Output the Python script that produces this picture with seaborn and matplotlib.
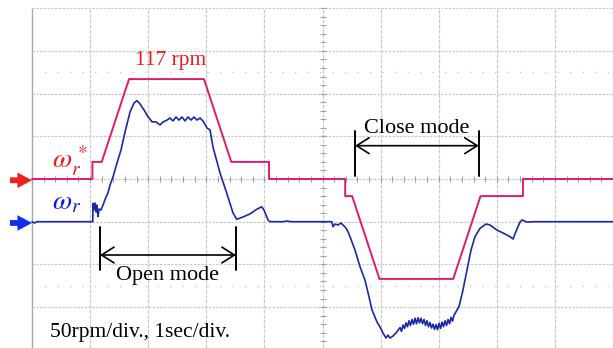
import matplotlib
matplotlib.use("Agg")
import matplotlib.pyplot as plt
import numpy as np
import pandas as pd
import seaborn as sns

# ---- scope settings -------------------------------------------------------
RPM_PER_DIV = 50          # vertical scale
SEC_PER_DIV = 1           # horizontal scale
N_HDIV = 10
SPEED_OFFSET = -50        # channel 2 (measured speed) sits one division lower

# ---- speed reference  w_r*  [s], [rpm] -------------------------------------
ref_t = [0.00, 1.04, 1.04, 1.20, 1.67, 2.96, 3.43, 4.08, 4.08,
         5.39, 5.39, 5.51, 5.98, 7.25, 7.72, 8.45, 8.45, 10.0]
ref_rpm = [0, 0, 20, 20, 117, 117, 20, 20, 0,
           0, -20, -20, -117, -117, -20, -20, 0, 0]

# ---- measured speed  w_r  [s], [rpm] ---------------------------------------
spd_t = [0.00, 0.04, 0.09,
         1.045, 1.05, 1.067, 1.085, 1.102, 1.119, 1.136, 1.153, 1.188, 1.222,
         1.274, 1.308, 1.343, 1.394, 1.463, 1.532, 1.601, 1.687, 1.756, 1.807,
         1.859, 1.928, 1.997, 2.065, 2.134, 2.203, 2.255, 2.324, 2.375, 2.427,
         2.478, 2.530, 2.582, 2.633, 2.685, 2.737, 2.788, 2.840, 2.892, 2.943,
         3.012, 3.064, 3.115, 3.167, 3.236, 3.351, 3.460, 3.523, 3.631, 3.752,
         3.867, 3.953, 3.993, 4.062, 4.096, 4.320, 4.389, 4.458,
         5.158, 5.181, 5.215, 5.267, 5.318, 5.353, 5.404, 5.439, 5.473, 5.559,
         5.645, 5.731, 5.800, 5.852, 5.938, 5.990, 6.041, 6.093, 6.127, 6.162,
         6.213, 6.265,
         6.334, 6.360, 6.386, 6.412, 6.437, 6.463, 6.489, 6.515, 6.541, 6.567,
         6.592, 6.618, 6.644, 6.670, 6.696, 6.722, 6.747, 6.773, 6.799, 6.825,
         6.851, 6.877, 6.902, 6.928, 6.954, 6.980, 7.006, 7.032, 7.057, 7.083,
         7.109, 7.135, 7.161, 7.187, 7.212, 7.238, 7.264,
         7.315, 7.349, 7.418, 7.487, 7.556, 7.625, 7.711, 7.814, 7.883,
         8.003, 8.107, 8.227, 8.279, 8.330, 8.399, 8.434, 8.520, 8.657, 10.0]
spd_rpm = [0, -1.5, 0,
           0, 21.5, 13.7, 21.9, 11.3, 19.5, 5.9, 14.8, 13.7, 19.5,
           29.0, 33.6, 43.0, 52.4, 68.8, 84.0, 105.0, 128.5, 139.0, 141.7,
           137.9, 130.8, 122.9, 117.0, 116.8, 113.3, 116.8, 119.0, 121.4, 118.0,
           122.6, 119.0, 122.6, 118.0, 122.6, 119.0, 122.6, 119.0, 121.4, 118.0,
           109.7, 107.4, 87.5, 74.5, 57.0, 33.6, 10.2, 2.8, 5.5, 9.1,
           14.5, 17.5, 13.7, 2.0, 0, 0, 0.8, 0,
           0, -5.9, -2.7, -3.9, -1.5, -3.9, -7.4, -11.7, -17.5, -33.2,
           -52.6, -68.3, -87.8, -103.4, -117.4, -123.3, -130.3, -136.2, -132.7, -136.2,
           -133.9, -130.3,
           -124.0, -128.5, -121.0, -125.0, -118.5, -123.0, -116.0, -121.5, -114.5, -120.0,
           -113.0, -119.5, -112.5, -118.5, -113.0, -119.5, -114.5, -121.5, -116.0, -123.0,
           -118.0, -124.5, -120.0, -126.0, -120.5, -126.5, -119.0, -125.0, -117.5, -123.0,
           -116.0, -121.5, -114.5, -119.5, -112.0, -116.5, -109.5,
           -103.4, -99.5, -80.0, -56.6, -33.2, -17.5, -7.8, -2.7, -3.9,
           -9.8, -13.2, -17.5, -20.3, -11.3, -0.4, 2.0, -0.4, 0, 0]

# ---- annotations -----------------------------------------------------------
peak_label = "117 rpm"
open_mode = (1.17, 3.51)      # [s]
close_mode = (5.56, 7.69)     # [s]
open_label = "Open mode"
close_label = "Close mode"
scale_label = "50rpm/div., 1sec/div."
ref_symbol = r"$\omega_r^{\,*}$"
spd_symbol = r"$\omega_r$"

# ---- style -----------------------------------------------------------------
sns.set_style("white")
plt.rcParams["font.family"] = ["Liberation Serif", "DejaVu Serif"]
plt.rcParams["mathtext.fontset"] = "stix"

REF_COLOR = "#DE1C6C"
SPD_COLOR = "#1C28A8"
GRID_COLOR = "#CACACA"

fig = plt.figure(figsize=(6.13, 3.48), dpi=100)
ax = fig.add_axes([0, 0, 1, 1])
ax.set_xlim(-0.551, N_HDIV * SEC_PER_DIV)
ax.set_ylim(-197.9, 209.6)
ax.axis("off")

ylo = ax.get_ylim()[0]
ytop = 4 * RPM_PER_DIV

# graticule
for k in range(1, N_HDIV + 1):
    ax.vlines(k * SEC_PER_DIV, ylo, ytop, color=GRID_COLOR, lw=0.9,
              ls=(0, (3, 1)), zorder=1)
ax.vlines(0, ylo, ytop, color="#A8A8A8", lw=1.0, zorder=1)
for v in range(-3 * RPM_PER_DIV, ytop + 1, RPM_PER_DIV):
    ax.hlines(v, 0, N_HDIV * SEC_PER_DIV, color=GRID_COLOR, lw=0.9,
              ls=(0, (2, 1)), zorder=1)
ax.hlines([2.5 * RPM_PER_DIV, -2.5 * RPM_PER_DIV], 0, N_HDIV * SEC_PER_DIV,
          color="#C8C8C8", lw=1.0, ls=(0, (1, 8)), zorder=1)

# centre-axis minor ticks
minor_t = np.arange(0, N_HDIV * SEC_PER_DIV + 0.01, SEC_PER_DIV / 5)
ax.plot(minor_t, np.zeros_like(minor_t), ls="none", marker="|", ms=5,
        mew=0.8, color="#A0A0A0", zorder=1)
minor_v = np.arange(-190, ytop + 1, RPM_PER_DIV / 5)
ax.plot(np.full_like(minor_v, N_HDIV / 2 * SEC_PER_DIV), minor_v, ls="none",
        marker="_", ms=5, mew=0.8, color="#A0A0A0", zorder=1)

# traces
ref_df = pd.DataFrame({"t": ref_t, "rpm": ref_rpm})
spd_df = pd.DataFrame({"t": spd_t, "rpm": np.array(spd_rpm) + SPEED_OFFSET})
sns.lineplot(data=ref_df, x="t", y="rpm", estimator=None, sort=False,
             color=REF_COLOR, lw=1.4, ax=ax, zorder=3)
sns.lineplot(data=spd_df, x="t", y="rpm", estimator=None, sort=False,
             color=SPD_COLOR, lw=1.2, ax=ax, zorder=3)
ax.axis("off")

# channel position markers
for level, col in [(0, "#F02020"), (SPEED_OFFSET, "#1030F0")]:
    ax.annotate("", xy=(0, level - 1.5), xytext=(-0.38, level - 1.5),
                arrowprops=dict(arrowstyle="simple,head_length=0.75,head_width=0.8,tail_width=0.3",
                                mutation_scale=14, color=col, lw=0,
                                shrinkA=0, shrinkB=0), zorder=4)

# trace labels
ax.text(0.34, 12, ref_symbol, color="#F01818", fontsize=20, ha="left",
        va="baseline")
ax.text(0.34, -36, spd_symbol, color="#1010F0", fontsize=20, ha="left",
        va="baseline")
ax.text(2.39, max(ref_rpm) + 16, peak_label, color="#F01818", fontsize=15.5,
        ha="center", va="baseline")

# mode spans
def mode_span(span, bar_lo, bar_hi, arrow_y, label, label_y):
    for t in span:
        ax.plot([t, t], [bar_lo, bar_hi], color="black", lw=1.4, zorder=4)
    ax.annotate("", xy=(span[1], arrow_y), xytext=(span[0], arrow_y),
                arrowprops=dict(arrowstyle="<->,head_length=0.6,head_width=0.38",
                                mutation_scale=15, color="black", lw=1.2,
                                shrinkA=0, shrinkB=0), zorder=4)
    ax.text(sum(span) / 2, label_y, label, fontsize=16, color="black",
            ha="center", va="baseline")

mode_span(close_mode, 3.5, 56.2, 39.0, close_label, 53.5)
mode_span(open_mode, -56.6, -106.6, -89.0, open_label, -118.3)

ax.text(0.31, -184.5, scale_label, fontsize=15.5, color="black", ha="left",
        va="baseline")

fig.savefig("out.png", dpi=100, facecolor="white")
